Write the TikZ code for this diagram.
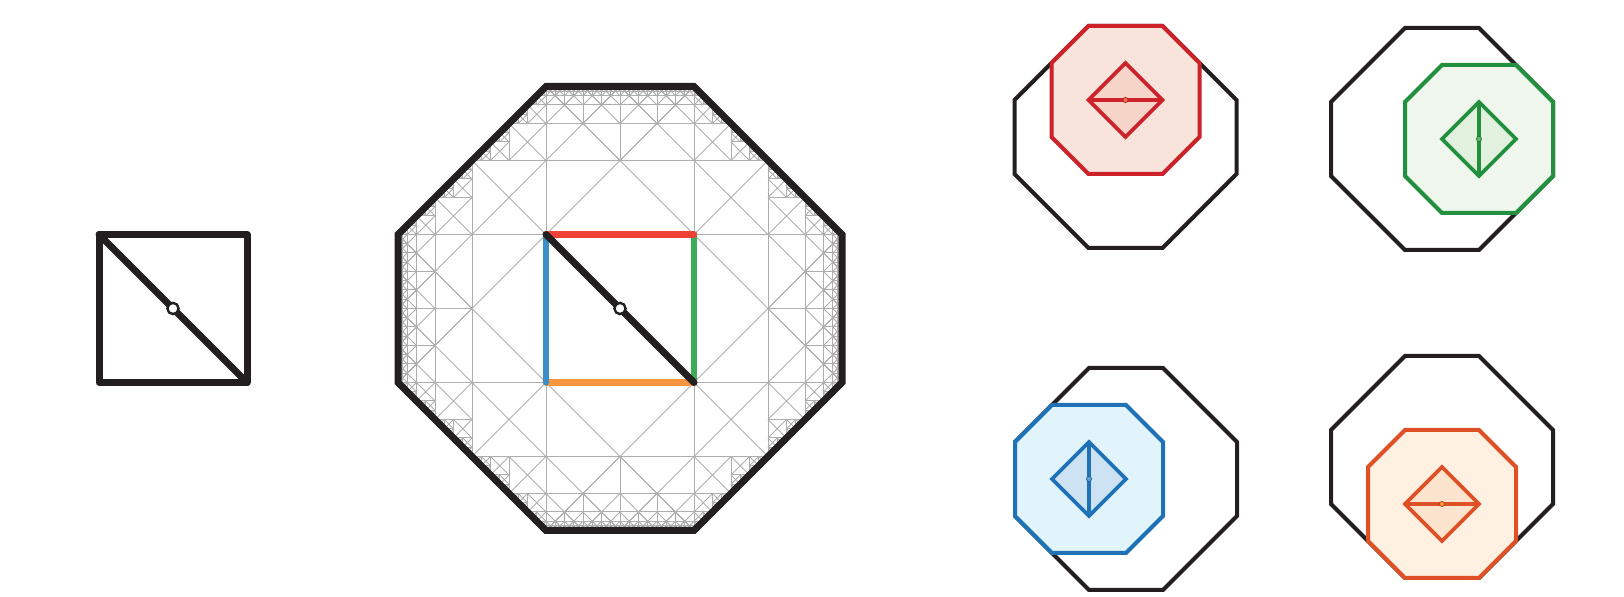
\documentclass[tikz,border=0pt]{standalone}
\usepackage{xcolor}
\usepackage{tikz}
\usetikzlibrary{calc}

\definecolor{inkblack}{RGB}{35,31,32}
\definecolor{gridgray}{RGB}{174,174,176}
\definecolor{edgered}{RGB}{239,65,54}
\definecolor{edgegreen}{RGB}{62,170,90}
\definecolor{edgeblue}{RGB}{58,143,200}
\definecolor{edgeorange}{RGB}{247,148,62}
\definecolor{redline}{RGB}{205,34,41}
\definecolor{redfill}{RGB}{249,228,220}
\definecolor{reddia}{RGB}{246,213,200}
\definecolor{reddot}{RGB}{240,108,80}
\definecolor{greenline}{RGB}{34,144,62}
\definecolor{greenfill}{RGB}{239,246,237}
\definecolor{greendia}{RGB}{226,240,222}
\definecolor{greendot}{RGB}{96,184,110}
\definecolor{blueline}{RGB}{31,114,182}
\definecolor{bluefill}{RGB}{225,243,251}
\definecolor{bluedia}{RGB}{205,227,243}
\definecolor{bluedot}{RGB}{92,163,214}
\definecolor{orangeline}{RGB}{222,81,38}
\definecolor{orangefill}{RGB}{254,241,226}
\definecolor{orangedia}{RGB}{252,227,206}
\definecolor{orangedot}{RGB}{247,148,62}

% one grey segment, ends given as dimen expressions
\newcommand\gline[4]{%
  \pgfpathmoveto{\pgfqpoint{\dimexpr#1\relax}{\dimexpr#2\relax}}%
  \pgfpathlineto{\pgfqpoint{\dimexpr#3\relax}{\dimexpr#4\relax}}%
  \pgfusepath{stroke}}

% square next to a straight side: depth, centre, half side, outward direction
\newcommand\bandcell[6]{%
  \gline{#2-#4}{#3-#4}{#2+#4}{#3+#4}%
  \gline{#2-#4}{#3+#4}{#2+#4}{#3-#4}%
  \gline{#2+#4*#6}{#3-#4*#5}{#2-#4*#6}{#3+#4*#5}%
  \gline{#2}{#3}{#2+#4*#5}{#3+#4*#6}%
  \ifnum#1>0
    \edef\bandnext{%
      \noexpand\bandcell{\the\numexpr#1-1\relax}%
        {\the\dimexpr#2+#4*(#5-#6)/2\relax}{\the\dimexpr#3+#4*(#6+#5)/2\relax}%
        {\the\dimexpr#4/2\relax}{#5}{#6}%
      \noexpand\bandcell{\the\numexpr#1-1\relax}%
        {\the\dimexpr#2+#4*(#5+#6)/2\relax}{\the\dimexpr#3+#4*(#6-#5)/2\relax}%
        {\the\dimexpr#4/2\relax}{#5}{#6}}%
    \expandafter\bandnext
  \fi}

% corner triangle: depth, right-angle corner, leg, leg directions
\newcommand\tricell[8]{%
  \gline{#2}{#3}{#2+#4*#5/2}{#3+#4*#6/2}%
  \gline{#2}{#3}{#2+#4*#7/2}{#3+#4*#8/2}%
  \gline{#2+#4*#5/2}{#3+#4*#6/2}{#2+#4*(#5+#7)/2}{#3+#4*(#6+#8)/2}%
  \gline{#2+#4*#7/2}{#3+#4*#8/2}{#2+#4*(#5+#7)/2}{#3+#4*(#6+#8)/2}%
  \gline{#2}{#3}{#2+#4*(#5+#7)/2}{#3+#4*(#6+#8)/2}%
  \gline{#2+#4*#5/2}{#3+#4*#6/2}{#2+#4*#7/2}{#3+#4*#8/2}%
  \ifnum#1>0
    \edef\trinext{%
      \noexpand\tricell{\the\numexpr#1-1\relax}%
        {\the\dimexpr#2+#4*#5/2\relax}{\the\dimexpr#3+#4*#6/2\relax}%
        {\the\dimexpr#4/2\relax}{#5}{#6}{#7}{#8}%
      \noexpand\tricell{\the\numexpr#1-1\relax}%
        {\the\dimexpr#2+#4*#7/2\relax}{\the\dimexpr#3+#4*#8/2\relax}%
        {\the\dimexpr#4/2\relax}{#5}{#6}{#7}{#8}}%
    \expandafter\trinext
  \fi}

\begin{document}
\begin{tikzpicture}[
  x=0.5pt,y=0.5pt,
  heavy/.style={draw=inkblack,line width=3.5pt,line cap=round,line join=round},
  rim/.style={draw=inkblack,line width=3.5pt,line join=miter},
  edge/.style={draw=#1,line width=3.1pt,line cap=round},
  pivot/.style={circle,draw=inkblack,fill=white,line width=1.2pt,
                inner sep=0pt,minimum size=5.6pt},
  outline/.style={draw=inkblack,line width=2pt,line join=miter},
  coloct/.style={draw=#1line,fill=#1fill,line width=2pt,line join=miter},
  coldia/.style={draw=#1line,fill=#1dia,line width=1.8pt,line join=miter},
  colseg/.style={draw=#1line,line width=1.8pt},
  coldot/.style={circle,draw=#1line!80!black,fill=#1dot,line width=0.3pt,
                 inner sep=0pt,minimum size=2.6pt},
  pics/outeroct/.style={code={
    \draw[outline] (-37,111) -- (37,111) -- (111,37) -- (111,-37) -- (37,-111)
      -- (-37,-111) -- (-111,-37) -- (-111,37) -- cycle;}},
  pics/midoct/.style={code={
    \draw[coloct=#1] (-37,74) -- (37,74) -- (74,37) -- (74,-37) -- (37,-74)
      -- (-37,-74) -- (-74,-37) -- (-74,37) -- cycle;
    \draw[coldia=#1] (-37,0) -- (0,37) -- (37,0) -- (0,-37) -- cycle;}}
]
\useasboundingbox (0,0) rectangle (1624,597);

% plain square
\coordinate (ltl) at (99,362.5);
\coordinate (ltr) at (247,362.5);
\coordinate (lbr) at (247,214.5);
\coordinate (lbl) at (99,214.5);
\draw[heavy] (ltl) -- (ltr) -- (lbr) -- (lbl) -- cycle;
\draw[heavy] (ltl) -- (lbr);
\node[pivot] (pivL) at (173,288.5) {};

% grey net inside the big octagon
\begin{scope}[shift={(620,288.5)}]
  \pgfsetstrokecolor{gridgray}\pgfsetlinewidth{0.5pt}
  \gline{37pt}{-111pt}{37pt}{111pt}
  \gline{-37pt}{-111pt}{-37pt}{111pt}
  \gline{-111pt}{37pt}{111pt}{37pt}
  \gline{-111pt}{-37pt}{111pt}{-37pt}
  \bandcell{7}{0pt}{74pt}{37pt}{0}{1}
  \bandcell{7}{74pt}{0pt}{37pt}{1}{0}
  \bandcell{7}{0pt}{-74pt}{37pt}{0}{-1}
  \bandcell{7}{-74pt}{0pt}{37pt}{-1}{0}
  \tricell{7}{37pt}{37pt}{74pt}{1}{0}{0}{1}
  \tricell{7}{-37pt}{37pt}{74pt}{-1}{0}{0}{1}
  \tricell{7}{-37pt}{-37pt}{74pt}{-1}{0}{0}{-1}
  \tricell{7}{37pt}{-37pt}{74pt}{1}{0}{0}{-1}
\end{scope}

% big octagon
\draw[rim] (546,510.5) -- (694,510.5) -- (842,362.5) -- (842,214.5)
  -- (694,66.5) -- (546,66.5) -- (398,214.5) -- (398,362.5) -- cycle;

% coloured square
\coordinate (tl) at (546,362.5);
\coordinate (tr) at (694,362.5);
\coordinate (br) at (694,214.5);
\coordinate (bl) at (546,214.5);
\draw[edge=edgeorange] (bl) -- (br);
\draw[edge=edgegreen] (tr) -- (br);
\draw[edge=edgered] (tl) -- (tr);
\draw[edge=edgeblue] (tl) -- (bl);
\draw[heavy] (tl) -- (br);
\node[pivot] (pivC) at (620,288.5) {};

% red panel
\pic at (1125.5,460) {outeroct};
\begin{scope}[shift={(1125.5,497)}]
  \pic {midoct=red};
  \coordinate (rw) at (-37,0);
  \coordinate (re) at (37,0);
  \draw[colseg=red] (rw) -- (re);
  \node[coldot=red] (rdot) at (0,0) {};
\end{scope}

% green panel
\pic at (1442,458) {outeroct};
\begin{scope}[shift={(1479,458)}]
  \pic {midoct=green};
  \coordinate (gn) at (0,37);
  \coordinate (gs) at (0,-37);
  \draw[colseg=green] (gn) -- (gs);
  \node[coldot=green] (gdot) at (0,0) {};
\end{scope}

% blue panel
\pic at (1126,118) {outeroct};
\begin{scope}[shift={(1089,118)}]
  \pic {midoct=blue};
  \coordinate (bn) at (0,37);
  \coordinate (bs) at (0,-37);
  \draw[colseg=blue] (bn) -- (bs);
  \node[coldot=blue] (bdot) at (0,0) {};
\end{scope}

% orange panel
\pic at (1442,130) {outeroct};
\begin{scope}[shift={(1442,93)}]
  \pic {midoct=orange};
  \coordinate (ow) at (-37,0);
  \coordinate (oe) at (37,0);
  \draw[colseg=orange] (ow) -- (oe);
  \node[coldot=orange] (odot) at (0,0) {};
\end{scope}
\end{tikzpicture}
\end{document}
